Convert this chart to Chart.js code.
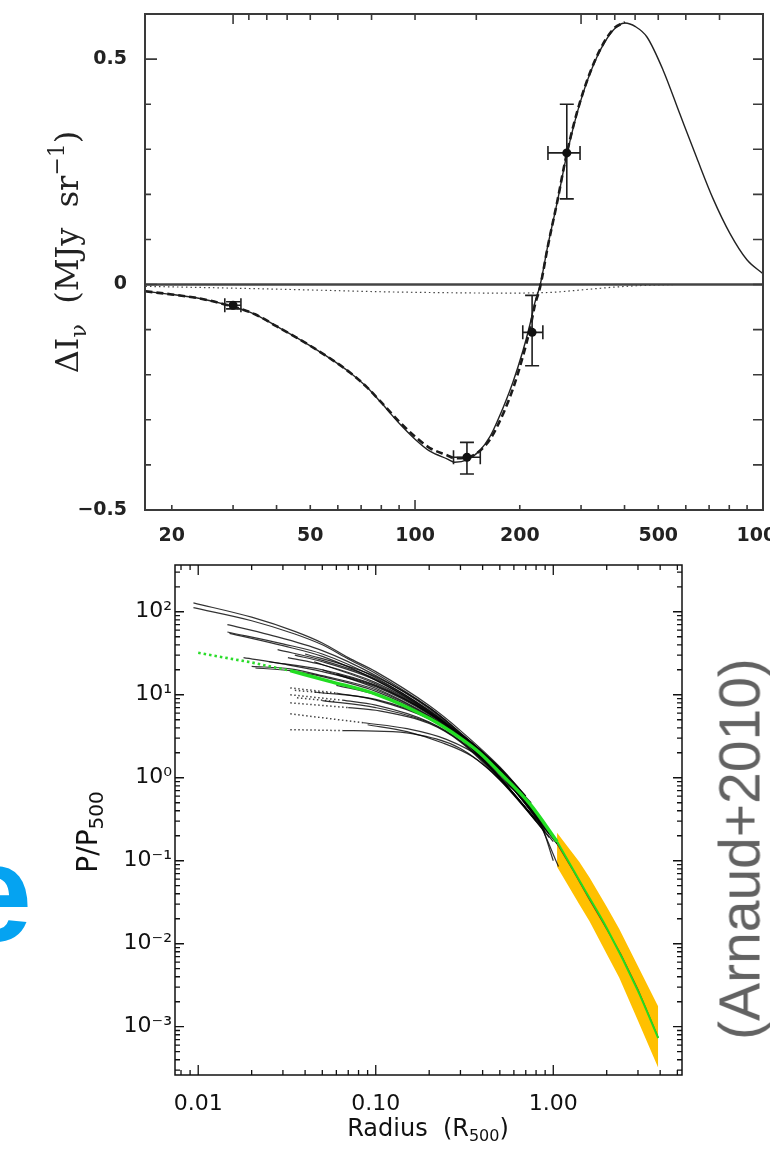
<!DOCTYPE html>
<html>
<head>
<meta charset="utf-8">
<title>SZ spectrum and pressure profiles</title>
<script src="https://cdn.jsdelivr.net/npm/chart.js@4.4.1/dist/chart.umd.min.js"></script>
<style>
  html, body { margin: 0; padding: 0; background: #fff; }
  body { position: relative; width: 770px; height: 1150px; overflow: hidden; }
  .box { position: absolute; left: 0; width: 770px; }
  #szBox { top: 0; height: 548px; }
  #prBox { top: 545px; height: 605px; }
  #cut { position: absolute; left: -45px; top: 823px; font: bold 139px/139px "Liberation Sans", Arial, sans-serif; color: #05a3f1; }
  #cite { position: absolute; left: 740px; top: 849px; transform: translate(-50%, -50%) rotate(-90deg);
          font: 57px/57px "Liberation Sans", Arial, sans-serif; color: #626262; white-space: nowrap; }
</style>
</head>
<body>
<div class="box" id="szBox"><canvas id="sz"></canvas></div>
<div class="box" id="prBox"><canvas id="pr"></canvas></div>
<div id="cut">e</div>
<div id="cite">(Arnaud+2010)</div>
<script>
// ---------- top panel : SZ spectrum (GHz, MJy/sr) ----------
const nuModel = [16.8, 20, 24.1, 30, 34.7, 40.1, 46.7, 58.1, 65, 72.8, 79.3, 90.6, 100, 110, 124, 130, 141, 154, 164, 172,
                 191, 204, 214, 221, 229, 241, 256, 273, 298, 333, 371, 401, 430, 464, 516, 577, 645, 719, 804, 899, 1000];
const dIModel = [-0.015, -0.022, -0.031, -0.049, -0.066, -0.093, -0.122, -0.168, -0.195, -0.228, -0.259, -0.310, -0.343, -0.369, -0.387, -0.394, -0.389, -0.367, -0.338, -0.305,
                 -0.217, -0.148, -0.088, -0.040, 0.000, 0.088, 0.181, 0.288, 0.403, 0.504, 0.564, 0.580, 0.572, 0.549, 0.476, 0.378, 0.281, 0.190, 0.113, 0.055, 0.024];
const nuFit = nuModel.slice(0, 32);
const dIFit = [-0.015, -0.022, -0.031, -0.049, -0.066, -0.093, -0.122, -0.168, -0.195, -0.228, -0.258, -0.306, -0.337, -0.362, -0.379, -0.385, -0.384, -0.368, -0.344, -0.316,
               -0.232, -0.160, -0.098, -0.046, -0.004, 0.086, 0.182, 0.291, 0.405, 0.506, 0.566, 0.582];
const nuKin = [16.8, 30, 50, 80, 120, 180, 250, 300, 370, 450, 550];
const dIKin = [-0.004, -0.008, -0.012, -0.016, -0.018, -0.019, -0.017, -0.012, -0.006, -0.002, 0];
const zeroNu = [16.75, 1000];
const zeroDI = [0, 0];

const ptNu   = [30, 141, 217, 273];
const ptDI   = [-0.046, -0.383, -0.106, 0.292];
const ptNuLo = [28.4, 129, 204, 241];
const ptNuHi = [31.6, 154, 233, 298];
const ptDILo = [-0.054, -0.42, -0.18, 0.19];
const ptDIHi = [-0.038, -0.35, -0.024, 0.40];

const szXTicks = [20, 50, 100, 200, 500, 1000];
const szYTicks = [-0.5, 0, 0.5];
const szTopTicks = [30, 33.3, 37.5, 42.9, 50, 60, 75, 100, 150, 300, 333, 375, 429, 500, 600, 750];
const szTopMajor = [30, 300];

// ---------- bottom panel : pressure profiles ----------
const univDotR = [0.01, 0.02, 0.033];
const univDotP = [32, 24.5, 19.5];
const univR = [0.033, 0.055, 0.1, 0.2, 0.3, 0.39, 0.5, 0.74, 1.05];
const univP = [19.5, 14.5, 10.2, 5.2, 3.0, 1.95, 1.15, 0.48, 0.17];
const univOutR = [1.05, 1.5, 2.0, 3.0, 3.9];
const univOutP = [0.17, 0.045, 0.0155, 0.0027, 0.00073];
const medR = [1.05, 1.3, 1.6, 1.85, 2.1, 2.4, 3.0, 3.9];
const medP = [0.16, 0.075, 0.034, 0.02, 0.0125, 0.0075, 0.0028, 0.00074];
const bandR  = [1.05, 1.4, 1.6, 2.0, 2.35, 3.0, 3.9];
const bandHi = [0.217, 0.0973, 0.063, 0.0279, 0.0152, 0.00537, 0.00175];
const bandLo = [0.0847, 0.030, 0.0186, 0.00754, 0.00391, 0.00118, 0.00032];

const profSteep = [
  [[0.0094, 128], [0.02, 86], [0.035, 58], [0.05, 42], [0.07, 28], [0.1, 19], [0.2, 7.4], [0.3, 3.7], [0.5, 1.35], [0.7, 0.6]],
  [[0.0094, 112], [0.02, 78], [0.035, 54], [0.05, 40], [0.07, 27], [0.1, 18], [0.2, 7.0], [0.3, 3.5], [0.5, 1.3], [0.75, 0.5]],
  [[0.0146, 70], [0.025, 53], [0.05, 34], [0.1, 17], [0.2, 6.8], [0.3, 3.4], [0.5, 1.28], [0.8, 0.39]],
  [[0.0146, 57], [0.03, 41], [0.05, 31], [0.1, 16], [0.2, 6.4], [0.3, 3.3], [0.5, 1.24], [0.85, 0.31]],
  [[0.015, 55], [0.03, 39], [0.05, 29], [0.1, 15], [0.2, 6.2], [0.3, 3.25], [0.5, 1.2], [0.9, 0.26]],
  [[0.028, 35], [0.05, 26], [0.1, 15.5], [0.2, 6.5], [0.3, 3.3], [0.5, 1.26], [0.8, 0.38]],
  [[0.032, 28], [0.05, 23], [0.1, 14], [0.2, 6.1], [0.3, 3.2], [0.5, 1.2], [0.95, 0.21]],
  [[0.04, 31], [0.07, 22], [0.1, 16.5], [0.2, 7], [0.3, 3.45], [0.5, 1.32], [0.7, 0.6]]
];
const profMid = [
  [[0.018, 28], [0.03, 23.5], [0.05, 19], [0.1, 12.5], [0.2, 5.8], [0.3, 3.1], [0.5, 1.18], [1.0, 0.2]],
  [[0.021, 21], [0.033, 19.5], [0.05, 16.5], [0.1, 11], [0.2, 5.4], [0.3, 3.0], [0.5, 1.12], [0.95, 0.21]],
  [[0.025, 25], [0.05, 20], [0.1, 13], [0.2, 5.9], [0.3, 3.1], [0.5, 1.13], [0.9, 0.26]],
  [[0.02, 22], [0.033, 20.5], [0.05, 17], [0.1, 11.5], [0.2, 5.5], [0.3, 3.0], [0.5, 1.05], [0.8, 0.34], [1.07, 0.085]],
  [[0.035, 30], [0.05, 25], [0.1, 15], [0.2, 6.3], [0.3, 3.25], [0.5, 1.22], [0.8, 0.37]],
  [[0.045, 25], [0.1, 13.5], [0.2, 6.0], [0.3, 3.15], [0.5, 1.12], [1.05, 0.16]],
  [[0.05, 20], [0.1, 12], [0.2, 5.6], [0.3, 3.05], [0.5, 1.02], [1.0, 0.17]],
  [[0.06, 18], [0.1, 12.8], [0.2, 6.0], [0.4, 2.05], [0.6, 0.8], [1.1, 0.14]],
  [[0.06, 13], [0.1, 10], [0.2, 5.3], [0.3, 2.95], [0.5, 1.0], [0.95, 0.19]],
  [[0.045, 10.8], [0.1, 8.8], [0.2, 5.2], [0.3, 3.0], [0.5, 1.12], [0.75, 0.49]]
];
const profLow = [
  [[0.06, 10.5], [0.1, 8.6], [0.2, 5.1], [0.3, 2.95], [0.5, 1.0], [0.9, 0.22]],
  [[0.065, 8.6], [0.1, 7.5], [0.2, 4.7], [0.3, 2.8], [0.5, 0.98], [0.85, 0.27]],
  [[0.07, 7.0], [0.1, 6.5], [0.2, 4.5], [0.3, 2.7], [0.5, 0.95], [0.8, 0.31]],
  [[0.085, 4.6], [0.15, 3.9], [0.25, 2.9], [0.4, 1.7], [0.6, 0.72], [0.9, 0.23]],
  [[0.065, 3.7], [0.1, 3.65], [0.16, 3.4], [0.3, 2.25], [0.5, 0.96], [0.8, 0.31]],
  [[0.05, 8.5], [0.1, 7.0], [0.2, 4.6], [0.3, 2.75], [0.5, 1.0], [0.85, 0.28], [1.0, 0.1]],
  [[0.09, 4.35], [0.15, 3.6], [0.23, 2.7], [0.35, 1.8], [0.5, 0.94], [0.8, 0.3]]
];
const profDotted = [
  [[0.033, 12.1], [0.06, 10.5]],
  [[0.035, 11.3], [0.055, 10.4]],
  [[0.033, 10.0], [0.065, 8.6]],
  [[0.036, 9.2], [0.06, 8.3]],
  [[0.033, 8.0], [0.07, 7.0]],
  [[0.033, 5.9], [0.085, 4.6]],
  [[0.033, 3.8], [0.065, 3.7]]
];

const prXTicks = [0.01, 0.1, 1];
const prXLabels = ['0.01', '0.10', '1.00'];
const prYTicks = [1e-3, 1e-2, 1e-1, 1, 10, 100];
const prYLabels = ['10\u207B\u00B3', '10\u207B\u00B2', '10\u207B\u00B9', '10\u2070', '10\u00B9', '10\u00B2'];

// ---------- helpers ----------
const xy = (xs, ys) => xs.map((v, i) => ({x: v, y: ys[i]}));
const pairs = arr => arr.map(p => ({x: p[0], y: p[1]}));

function logSteps(min, max) {
  const out = [];
  for (let e = Math.floor(Math.log10(min)); e <= Math.ceil(Math.log10(max)); e++) {
    for (let k = 1; k < 10; k++) {
      const v = k * Math.pow(10, e);
      if (v >= min && v <= max) out.push({v: v, major: k === 1});
    }
  }
  return out;
}

function tickMarks(ctx, a, scale, list, side, lenOf) {
  ctx.beginPath();
  list.forEach(t => {
    const p = scale.getPixelForValue(t.v);
    const L = lenOf(t);
    if (side === 'bottom') { ctx.moveTo(p, a.bottom); ctx.lineTo(p, a.bottom - L); }
    if (side === 'top') { ctx.moveTo(p, a.top); ctx.lineTo(p, a.top + L); }
    if (side === 'left') { ctx.moveTo(a.left, p); ctx.lineTo(a.left + L, p); }
    if (side === 'right') { ctx.moveTo(a.right, p); ctx.lineTo(a.right - L, p); }
  });
  ctx.stroke();
}

// text made of pieces (sub/superscripts), centred on cx,cy
function drawRich(ctx, parts, cx, cy, rot, color) {
  ctx.save();
  ctx.translate(cx, cy);
  ctx.rotate(rot);
  ctx.fillStyle = color;
  ctx.textAlign = 'left';
  ctx.textBaseline = 'alphabetic';
  let w = 0;
  parts.forEach(p => { ctx.font = p.font; p.w = ctx.measureText(p.t).width; w += p.w; });
  let x = -w / 2;
  parts.forEach(p => { ctx.font = p.font; ctx.fillText(p.t, x, p.dy); x += p.w; });
  ctx.restore();
}

// ---------- top chart ----------
const szDeco = {
  id: 'szDeco',
  afterDatasetsDraw(chart) {
    const {ctx, scales: {x, y}} = chart;
    ctx.save();
    ctx.strokeStyle = '#1e1e1e';
    ctx.fillStyle = '#111';
    ctx.lineWidth = 1.6;
    ptNu.forEach((nu, i) => {
      const px = x.getPixelForValue(nu), py = y.getPixelForValue(ptDI[i]);
      const x0 = x.getPixelForValue(ptNuLo[i]), x1 = x.getPixelForValue(ptNuHi[i]);
      const y0 = y.getPixelForValue(ptDILo[i]), y1 = y.getPixelForValue(ptDIHi[i]);
      const c = 7;
      ctx.beginPath();
      ctx.moveTo(px, y0); ctx.lineTo(px, y1);
      ctx.moveTo(px - c, y0); ctx.lineTo(px + c, y0);
      ctx.moveTo(px - c, y1); ctx.lineTo(px + c, y1);
      ctx.moveTo(x0, py); ctx.lineTo(x1, py);
      ctx.moveTo(x0, py - c); ctx.lineTo(x0, py + c);
      ctx.moveTo(x1, py - c); ctx.lineTo(x1, py + c);
      ctx.stroke();
      ctx.beginPath();
      ctx.arc(px, py, 4.5, 0, Math.PI * 2);
      ctx.fill();
    });
    ctx.restore();
  },
  afterDraw(chart) {
    const {ctx, chartArea: a, scales: {x, y}} = chart;
    ctx.save();
    ctx.strokeStyle = '#3a3a3a';
    ctx.lineWidth = 2;
    ctx.strokeRect(a.left, a.top, a.right - a.left, a.bottom - a.top);
    ctx.lineWidth = 1.6;
    tickMarks(ctx, a, x, logSteps(17, 1000), 'bottom', t => t.major ? 10 : 5);
    tickMarks(ctx, a, x, szTopTicks.map(v => ({v: v, major: szTopMajor.includes(v)})), 'top', t => t.major ? 10 : 6);
    const yt = [];
    for (let k = -4; k <= 5; k++) yt.push({v: k / 10, major: k % 5 === 0});
    tickMarks(ctx, a, y, yt, 'left', t => t.major ? 12 : 6);
    tickMarks(ctx, a, y, yt, 'right', t => 10);
    ctx.restore();
    drawRich(ctx, [
      {t: '\u0394I', font: '32px "DejaVu Serif"', dy: 11},
      {t: '\u03BD', font: '22px "DejaVu Serif"', dy: 19},
      {t: '  (MJy  sr', font: '32px "DejaVu Serif"', dy: 11},
      {t: '\u22121', font: '22px "DejaVu Serif"', dy: -3},
      {t: ')', font: '32px "DejaVu Serif"', dy: 11}
    ], 67, 252, -Math.PI / 2, '#222');
  }
};

new Chart(document.getElementById('sz'), {
  type: 'scatter',
  data: {
    datasets: [
      {label: 'fit', data: xy(nuFit, dIFit), borderColor: '#1b1b1b', borderWidth: 2.6, borderDash: [7, 4], order: 0},
      {label: 'model', data: xy(nuModel, dIModel), borderColor: '#222', borderWidth: 1.4, order: 1},
      {label: 'kinetic', data: xy(nuKin, dIKin), borderColor: '#444', borderWidth: 1.2, borderDash: [1.5, 3], order: 2},
      {label: 'zero', data: xy(zeroNu, zeroDI), borderColor: '#444', borderWidth: 2.4, order: 3}
    ].map(d => Object.assign({showLine: true, pointRadius: 0, cubicInterpolationMode: 'monotone', fill: false}, d))
  },
  options: {
    responsive: true,
    maintainAspectRatio: false,
    devicePixelRatio: 1,
    animation: false,
    events: [],
    layout: {padding: {top: 14, right: 7, left: 0, bottom: 0}},
    plugins: {legend: {display: false}, tooltip: {enabled: false}},
    scales: {
      x: {
        type: 'logarithmic', min: 16.75, max: 1000,
        grid: {display: false, drawTicks: false}, border: {display: false},
        afterBuildTicks: s => { s.ticks = szXTicks.map(v => ({value: v})); },
        afterFit: s => { s.height = 38; s.paddingLeft = 0; s.paddingRight = 0; },
        ticks: {autoSkip: false, maxRotation: 0, minRotation: 0, padding: 15, color: '#222',
                font: {family: 'DejaVu Sans', size: 19, weight: 'bold'}, callback: v => String(v)}
      },
      y: {
        type: 'linear', min: -0.5, max: 0.6,
        grid: {display: false, drawTicks: false}, border: {display: false},
        afterBuildTicks: s => { s.ticks = szYTicks.map(v => ({value: v})); },
        afterFit: s => { s.width = 145; s.paddingTop = 0; s.paddingBottom = 0; },
        ticks: {autoSkip: false, padding: 18, color: '#222',
                font: {family: 'DejaVu Sans', size: 19, weight: 'bold'},
                callback: v => v === 0 ? '0' : (v < 0 ? '\u2212' + Math.abs(v) : String(v))}
      }
    }
  },
  plugins: [szDeco]
});

// ---------- bottom chart ----------
const prDeco = {
  id: 'prDeco',
  afterDraw(chart) {
    const {ctx, chartArea: a, scales: {x, y}} = chart;
    ctx.save();
    ctx.strokeStyle = '#111';
    ctx.lineWidth = 1.5;
    ctx.strokeRect(a.left, a.top, a.right - a.left, a.bottom - a.top);
    ctx.lineWidth = 1.3;
    const xs = logSteps(x.min, x.max), ys = logSteps(y.min, y.max);
    tickMarks(ctx, a, x, xs, 'bottom', t => t.major ? 10 : 5);
    tickMarks(ctx, a, x, xs, 'top', t => t.major ? 10 : 5);
    tickMarks(ctx, a, y, ys, 'left', t => t.major ? 9 : 5);
    tickMarks(ctx, a, y, ys, 'right', t => t.major ? 9 : 5);
    ctx.restore();
    drawRich(ctx, [
      {t: 'P/P', font: '28px "DejaVu Sans"', dy: 10},
      {t: '500', font: '20px "DejaVu Sans"', dy: 16}
    ], 87, 287, -Math.PI / 2, '#111');
    drawRich(ctx, [
      {t: 'Radius  (R', font: '24px "DejaVu Sans"', dy: 9},
      {t: '500', font: '16px "DejaVu Sans"', dy: 14},
      {t: ')', font: '24px "DejaVu Sans"', dy: 9}
    ], 428, 582, 0, '#111');
  }
};

const prSets = [
  {label: 'bandLo', data: xy(bandR, bandLo), borderWidth: 0, borderColor: 'rgba(0,0,0,0)', fill: false, order: 9},
  {label: 'bandHi', data: xy(bandR, bandHi), borderWidth: 0, borderColor: 'rgba(0,0,0,0)', fill: '-1',
   backgroundColor: 'rgb(255,192,0)', order: 9}
];
profSteep.concat(profMid, profLow).forEach((p, i) => {
  prSets.push({label: 'profile ' + (i + 1), data: pairs(p), borderColor: 'rgba(0,0,0,0.8)', borderWidth: 1.2,
               cubicInterpolationMode: 'monotone', order: 4});
});
profDotted.forEach((p, i) => {
  prSets.push({label: 'extrap ' + (i + 1), data: pairs(p), borderColor: '#444', borderWidth: 1.5,
               borderDash: [1.5, 2.5], order: 5});
});
prSets.push({label: 'median', data: xy(medR, medP), borderColor: '#9a2c10', borderWidth: 1.2, order: 2});
prSets.push({label: 'universal (extrap)', data: xy(univDotR, univDotP), borderColor: '#2bdc2b', borderWidth: 2.6,
             borderDash: [2.5, 3], order: 1});
prSets.push({label: 'universal', data: xy(univR, univP), borderColor: '#22dd22', borderWidth: 3.4,
             cubicInterpolationMode: 'monotone', order: 0});
prSets.push({label: 'universal (outer)', data: xy(univOutR, univOutP), borderColor: '#22dd22', borderWidth: 2,
             cubicInterpolationMode: 'monotone', order: 0});
prSets.forEach(d => { d.showLine = true; d.pointRadius = 0; if (d.fill === undefined) d.fill = false; });

new Chart(document.getElementById('pr'), {
  type: 'scatter',
  data: {datasets: prSets},
  options: {
    responsive: true,
    maintainAspectRatio: false,
    devicePixelRatio: 1,
    animation: false,
    events: [],
    layout: {padding: {top: 20, right: 88, left: 0, bottom: 0}},
    plugins: {legend: {display: false}, tooltip: {enabled: false}},
    scales: {
      x: {
        type: 'logarithmic', min: 0.0074, max: 5.31,
        grid: {display: false, drawTicks: false}, border: {display: false},
        afterBuildTicks: s => { s.ticks = prXTicks.map(v => ({value: v})); },
        afterFit: s => { s.height = 75; s.paddingLeft = 0; s.paddingRight = 0; },
        ticks: {autoSkip: false, maxRotation: 0, minRotation: 0, padding: 16, color: '#111',
                font: {family: 'DejaVu Sans', size: 22}, callback: (v, i) => prXLabels[i]}
      },
      y: {
        type: 'logarithmic', min: 2.62e-4, max: 366,
        grid: {display: false, drawTicks: false}, border: {display: false},
        afterBuildTicks: s => { s.ticks = prYTicks.map(v => ({value: v})); },
        afterFit: s => { s.width = 175; s.paddingTop = 0; s.paddingBottom = 0; },
        ticks: {autoSkip: false, padding: 3, color: '#111',
                font: {family: 'DejaVu Sans', size: 22}, callback: (v, i) => prYLabels[i]}
      }
    }
  },
  plugins: [prDeco]
});
</script>
</body>
</html>
